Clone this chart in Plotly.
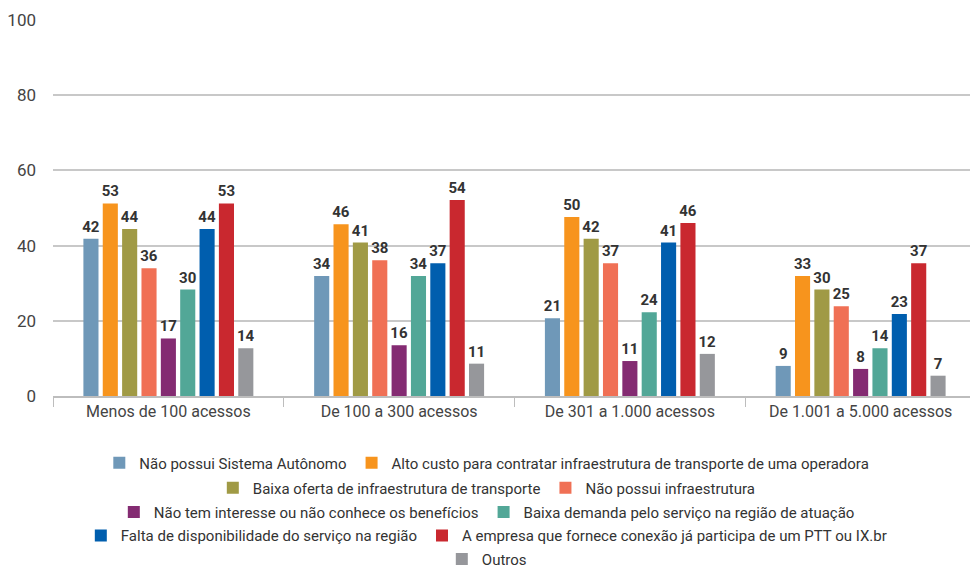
import plotly.graph_objects as go

categories = ["Menos de 100 acessos", "De 100 a 300 acessos", "De 301 a 1.000 acessos", "De 1.001 a 5.000 acessos"]

series_names = [
    "Não possui Sistema Autônomo",
    "Alto custo para contratar infraestrutura de transporte de uma operadora",
    "Baixa oferta de infraestrutura de transporte",
    "Não possui infraestrutura",
    "Não tem interesse ou não conhece os benefícios",
    "Baixa demanda pelo serviço na região de atuação",
    "Falta de disponibilidade do serviço na região",
    "A empresa que fornece conexão já participa de um PTT ou IX.br",
    "Outros",
]

# bar heights as drawn
nao_possui_sa = [41.8, 31.9, 20.7, 8.0]
alto_custo = [51.2, 45.7, 47.6, 31.9]
baixa_oferta = [44.4, 40.8, 41.8, 28.3]
nao_possui_infra = [34.0, 36.1, 35.3, 23.9]
nao_tem_interesse = [15.3, 13.5, 9.3, 7.2]
baixa_demanda = [28.3, 31.9, 22.3, 12.7]
falta_disp = [44.4, 35.3, 40.8, 21.8]
empresa_ptt = [51.2, 52.1, 46.0, 35.3]
outros = [12.7, 8.6, 11.2, 5.4]

# printed labels
lbl_nao_possui_sa = [42, 34, 21, 9]
lbl_alto_custo = [53, 46, 50, 33]
lbl_baixa_oferta = [44, 41, 42, 30]
lbl_nao_possui_infra = [36, 38, 37, 25]
lbl_nao_tem_interesse = [17, 16, 11, 8]
lbl_baixa_demanda = [30, 34, 24, 14]
lbl_falta_disp = [44, 37, 41, 23]
lbl_empresa_ptt = [53, 54, 46, 37]
lbl_outros = [14, 11, 12, 7]

y_ticks = [0, 20, 40, 60, 80, 100]

values = [nao_possui_sa, alto_custo, baixa_oferta, nao_possui_infra, nao_tem_interesse,
          baixa_demanda, falta_disp, empresa_ptt, outros]
labels = [lbl_nao_possui_sa, lbl_alto_custo, lbl_baixa_oferta, lbl_nao_possui_infra,
          lbl_nao_tem_interesse, lbl_baixa_demanda, lbl_falta_disp, lbl_empresa_ptt, lbl_outros]
colors = ["#6f98b8", "#f7941d", "#a09a45", "#f07055", "#842b72",
          "#52a797", "#005eae", "#c9282f", "#96979b"]
legend_ids = ["legend", "legend", "legend2", "legend2", "legend3", "legend3",
              "legend4", "legend4", "legend5"]

FONT = "Roboto, sans-serif"

fig = go.Figure()
for name, v, l, c, lg in zip(series_names, values, labels, colors, legend_ids):
    fig.add_trace(go.Bar(
        name=name, x=categories, y=v, text=[str(t) for t in l],
        textposition="outside", cliponaxis=False, constraintext="none",
        textfont=dict(family=FONT, size=15, color="#333333", weight="bold"),
        marker=dict(color=c, line=dict(width=0)),
        legend=lg,
    ))

row_y = [-0.178, -0.245, -0.309, -0.372, -0.434]
leg_common = dict(orientation="h", xanchor="center", yanchor="middle", x=0.47,
                  font=dict(family=FONT, size=15, color="#333333"),
                  bgcolor="rgba(0,0,0,0)", itemwidth=30)

fig.update_layout(
    width=970, height=560,
    margin=dict(l=45, r=2, t=12, b=172, autoexpand=False),
    paper_bgcolor="white", plot_bgcolor="white",
    barmode="group", bargap=0.245, bargroupgap=0.22,
    font=dict(family=FONT, size=16, color="#444444"),
    legend=dict(y=row_y[0], **leg_common),
    legend2=dict(y=row_y[1], **leg_common),
    legend3=dict(y=row_y[2], **leg_common),
    legend4=dict(y=row_y[3], **leg_common),
    legend5=dict(y=row_y[4], **leg_common),
    xaxis=dict(showline=True, linecolor="#bdbdbd", linewidth=1.5, automargin=False,
               ticks="outside", tickson="boundaries", ticklen=9, tickcolor="#bdbdbd",
               tickfont=dict(family=FONT, size=16, color="#444444"),
               showgrid=False),
    yaxis=dict(range=[0, 100], tickvals=y_ticks, showgrid=True, gridcolor="#c8c8c8",
               gridwidth=1.5, zeroline=False, ticks="", ticklabelstandoff=16,
               automargin=False,
               tickfont=dict(family=FONT, size=17, color="#444444")),
)
fig.write_html("out.html")
